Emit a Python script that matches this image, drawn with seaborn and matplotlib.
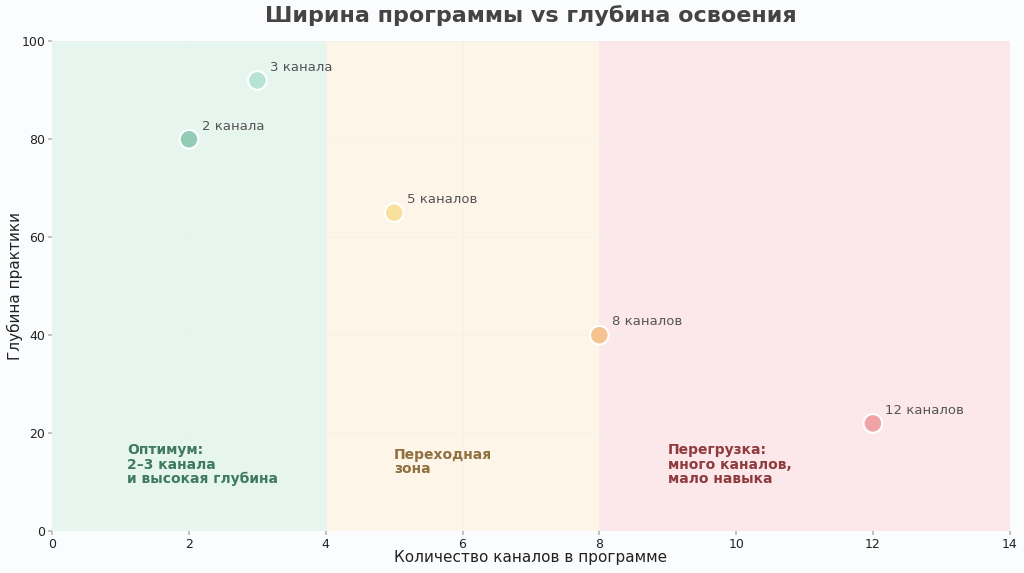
import matplotlib
matplotlib.use('Agg')
import matplotlib.pyplot as plt
import pandas as pd
import seaborn as sns

sns.set_theme(style='whitegrid')
plt.rcParams['font.family'] = ['DejaVu Sans']

channels = [2, 3, 5, 8, 12]
depth = [80, 92, 65, 40, 22]
labels = ['2 канала', '3 канала', '5 каналов', '8 каналов', '12 каналов']
point_colors = ['#93cbb6', '#b6e3d3', '#f7e19c', '#f5c390', '#f0a3a5']

zone_edges = [0, 4, 8, 14]
zone_colors = ['#e6f5ee', '#fdf6e8', '#fce8ea']
zone_texts = ['Оптимум:\n2–3 канала\nи высокая глубина', 'Переходная\nзона',
              'Перегрузка:\nмного каналов,\nмало навыка']
zone_text_colors = ['#3f7a5e', '#8f7040', '#8e3b3f']
zone_text_x = [1.1, 5.0, 9.0]
zone_text_y = [18, 17, 18]

df = pd.DataFrame({'channels': channels, 'depth': depth, 'label': labels})

fig, ax = plt.subplots(figsize=(10.24, 5.73), dpi=100)
fig.patch.set_facecolor('#fbfcfd')
ax.set_facecolor('white')
fig.subplots_adjust(left=0.051, right=0.986, top=0.928, bottom=0.073)

for i in range(3):
    ax.axvspan(zone_edges[i], zone_edges[i + 1], color=zone_colors[i], zorder=0, lw=0)
    ax.text(zone_text_x[i], zone_text_y[i], zone_texts[i], color=zone_text_colors[i],
            fontsize=10, fontweight='bold', va='top', ha='left', linespacing=1.05)

sns.scatterplot(data=df, x='channels', y='depth', hue='label', palette=point_colors,
                s=180, edgecolor='white', linewidth=1.5, legend=False, ax=ax, zorder=3)

for x, y, t in zip(channels, depth, labels):
    ax.annotate(t, (x, y), xytext=(9, 7), textcoords='offset points',
                fontsize=9.5, color='#555555')

ax.set_xlim(0, 14)
ax.set_ylim(0, 100)
ax.grid(True, color='#eeeeee', lw=0.6, alpha=0.5)
for s in ax.spines.values():
    s.set_visible(False)
ax.tick_params(axis='both', length=3, color='#bbbbbb', labelsize=9, colors='#222222', pad=2)
ax.tick_params(axis='both', which='major', bottom=True, left=True)
ax.set_xlabel('Количество каналов в программе', fontsize=11, color='#222222')
ax.set_ylabel('Глубина практики', fontsize=11, color='#222222')
ax.xaxis.set_label_coords(0.5, -0.038)
ax.yaxis.set_label_coords(-0.031, 0.5)
ax.set_title('Ширина программы vs глубина освоения', fontsize=16, fontweight='bold',
             color='#444444', pad=14)

fig.savefig('out.png', dpi=100, facecolor=fig.get_facecolor())
